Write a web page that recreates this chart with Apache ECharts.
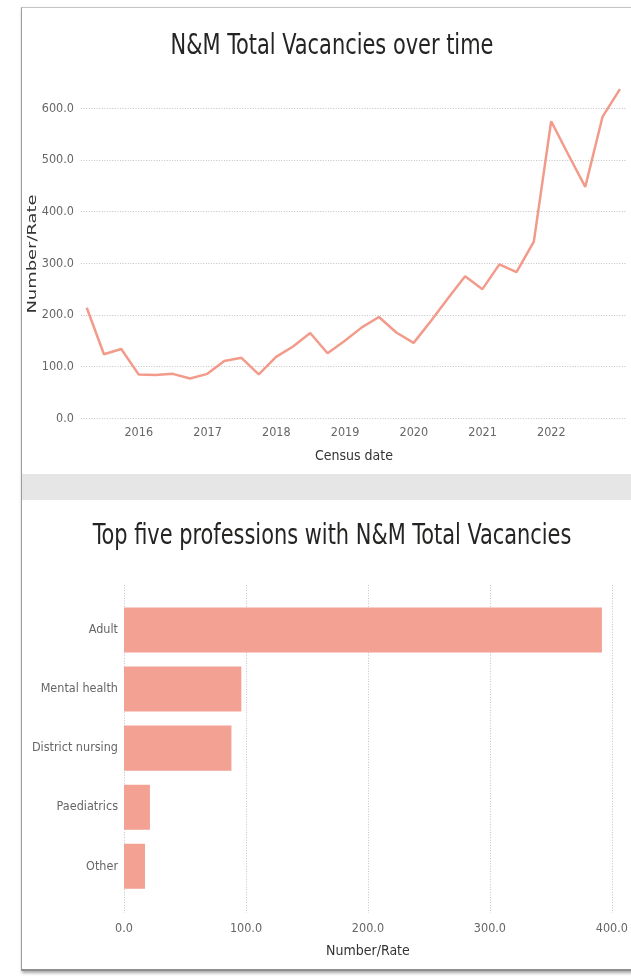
<!DOCTYPE html>
<html><head><meta charset="utf-8">
<script src="https://cdn.jsdelivr.net/npm/echarts@6/dist/echarts.min.js"></script>
<style>
html,body{margin:0;padding:0;width:631px;height:976px;overflow:hidden;background:#fff;}
#card{position:absolute;left:21px;top:7px;width:700px;height:961px;border-left:1px solid #9c9c9c;border-top:1px solid #c4c4c4;border-bottom:2px solid #8e8e8e;box-shadow:1px 2px 3px rgba(0,0,0,.35);background:#fff;}
#band{position:absolute;left:22px;top:474px;width:640px;height:26px;background:#e6e6e6;}
#chart{position:absolute;left:0;top:0;width:631px;height:976px;}
</style></head><body>
<div id="card"></div><div id="band"></div><div id="chart"></div>
<script>
// ---- data ----
const censusDates = [
  '2015-03-31','2015-06-30','2015-09-30','2015-12-31',
  '2016-03-31','2016-06-30','2016-09-30','2016-12-31',
  '2017-03-31','2017-06-30','2017-09-30','2017-12-31',
  '2018-03-31','2018-06-30','2018-09-30','2018-12-31',
  '2019-03-31','2019-06-30','2019-09-30','2019-12-31',
  '2020-03-31','2020-06-30','2020-09-30','2020-12-31',
  '2021-03-31','2021-06-30','2021-09-30','2021-12-31',
  '2022-03-31','2022-06-30','2022-09-30','2022-12-31'
];
const totalVacancies = [214,124,134,85,84,86,77,86,111,117,85,119,139,165,126,150,176,196,166,146,188,232,275,250,298,283,342,575,511,448,584,637];
const yearTicks = [2016,2017,2018,2019,2020,2021,2022];
const professions = ['Adult','Mental health','District nursing','Paediatrics','Other'];
const professionVacancies = [387,95,87,21,17];
const lineTitle = 'N&M Total Vacancies over time';
const barTitle = 'Top five professions with N&M Total Vacancies';

// ---- helpers ----
function toYear(s){
  const [y,m,d] = s.split('-').map(Number);
  const t = Date.UTC(y,m-1,d), a = Date.UTC(y,0,1), b = Date.UTC(y+1,0,1);
  return y + (t-a)/(b-a);
}
const NARROW = "'Liberation Sans Narrow','DejaVu Sans Condensed','Liberation Sans',sans-serif";
const lineColor = '#F29B8B';
const barColor = '#F3A193';
const tickStyle = {fontFamily:NARROW,fontSize:12.5,color:'#666'};
const gridLine = {show:true,lineStyle:{color:'#c2c2c2',type:[1,1.6],width:1}};
const titleFont = "28px " + NARROW;

const chart = echarts.init(document.getElementById('chart'), null, {renderer:'canvas'});
chart.setOption({
  backgroundColor:'transparent',
  animation:false,
  graphic:[
    {type:'text',x:332,y:47,scaleX:0.83,
     style:{text:lineTitle,font:titleFont,fill:'#252423',align:'center',verticalAlign:'middle'}},
    {type:'text',x:332,y:537,scaleX:0.83,
     style:{text:barTitle,font:titleFont,fill:'#252423',align:'center',verticalAlign:'middle'}},
    {type:'text',x:32.5,y:254,rotation:Math.PI/2,scaleX:1.38,
     style:{text:'Number/Rate',font:"13px 'DejaVu Sans',sans-serif",fill:'#333',align:'center',verticalAlign:'middle'}}
  ],
  grid:[
    {left:81,right:4,top:108.3,height:310},
    {left:124,right:13,top:600.5,height:295.3},
    {left:124,right:13,top:585,height:328}
  ],
  xAxis:[
    {type:'value',gridIndex:0,min:2015.16,max:2023.1,
     axisLine:{show:false},axisTick:{show:false},splitLine:{show:false},
     axisLabel:Object.assign({customValues:yearTicks,margin:8,formatter:v=>String(Math.round(v))},tickStyle),
     name:'Census date',nameLocation:'middle',nameGap:31,
     nameTextStyle:{fontFamily:NARROW,fontSize:14,color:'#333'}},
    {type:'value',gridIndex:1,min:0,max:400,show:false},
    {type:'value',gridIndex:2,min:0,max:400,interval:100,
     axisLine:{show:false},axisTick:{show:false},splitLine:gridLine,
     axisLabel:Object.assign({margin:9,formatter:v=>v.toFixed(1)},tickStyle),
     name:'Number/Rate',nameLocation:'middle',nameGap:31,
     nameTextStyle:{fontFamily:NARROW,fontSize:14,color:'#333'}}
  ],
  yAxis:[
    {type:'value',gridIndex:0,min:0,max:600,interval:100,
     axisLine:{show:false},axisTick:{show:false},splitLine:gridLine,
     axisLabel:Object.assign({margin:7,formatter:v=>v.toFixed(1)},tickStyle)},
    {type:'category',gridIndex:1,data:professions,inverse:true,
     axisLine:{show:false},axisTick:{show:false},splitLine:{show:false},
     axisLabel:{margin:6,fontFamily:NARROW,fontSize:12.5,color:'#666'}},
    {type:'value',gridIndex:2,show:false}
  ],
  series:[
    {type:'line',xAxisIndex:0,yAxisIndex:0,clip:false,symbol:'none',smooth:false,
     lineStyle:{color:lineColor,width:2.5},
     data:censusDates.map((d,i)=>[toYear(d),totalVacancies[i]])},
    {type:'bar',xAxisIndex:1,yAxisIndex:1,barCategoryGap:'23.7%',
     itemStyle:{color:barColor},data:professionVacancies}
  ]
});
</script>
</body></html>
